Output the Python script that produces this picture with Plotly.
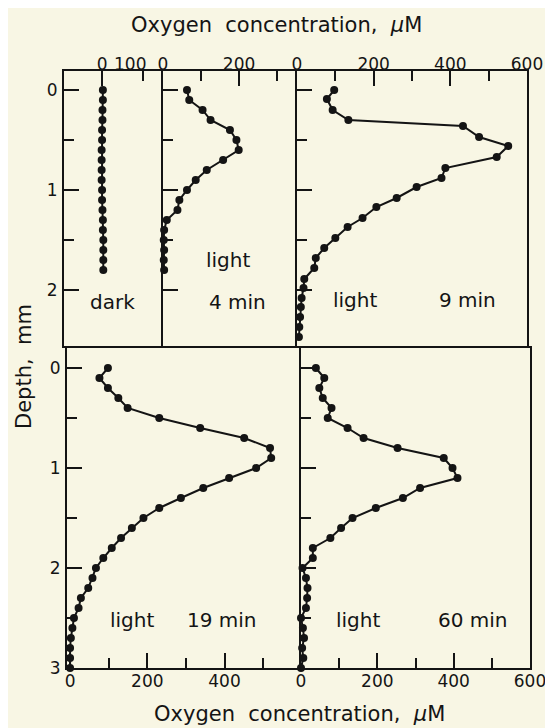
import plotly.graph_objects as go

# ---------------- data ----------------
depth_dark = [0.0, 0.1, 0.2, 0.3, 0.4, 0.5, 0.6, 0.7, 0.8, 0.9, 1.0, 1.1, 1.2, 1.3, 1.4, 1.5, 1.6, 1.7, 1.8]
o2_dark = [2, 2, 1, 1, 0, 0, -1, -1, -1, -1, 0, 0, 1, 2, 2, 3, 3, 3, 3]

depth_4min = [0.0, 0.1, 0.2, 0.3, 0.4, 0.5, 0.6, 0.7, 0.8, 0.9, 1.0, 1.1, 1.2, 1.3, 1.4, 1.5, 1.6, 1.7, 1.8]
o2_4min = [63, 69, 104, 125, 176, 193, 199, 158, 115, 86, 63, 43, 38, 10, 3, 2, 3, 2, 3]

depth_9min = [0.0, 0.09, 0.2, 0.3, 0.36, 0.47, 0.56, 0.67, 0.78, 0.88, 0.97, 1.08, 1.17, 1.28, 1.37,
              1.48, 1.58, 1.68, 1.78, 1.89, 1.98, 2.08, 2.17, 2.27, 2.37, 2.47]
o2_9min = [97, 78, 93, 134, 433, 475, 551, 521, 387, 377, 312, 260, 207, 171, 132,
           100, 71, 49, 45, 19, 17, 12, 10, 8, 6, 5]

depth_19min = [0.0, 0.1, 0.2, 0.3, 0.4, 0.5, 0.6, 0.7, 0.8, 0.9, 1.0, 1.1, 1.2, 1.3, 1.4, 1.5,
               1.6, 1.7, 1.8, 1.9, 2.0, 2.1, 2.2, 2.3, 2.4, 2.5, 2.6, 2.7, 2.8, 2.9, 3.0]
o2_19min = [98, 76, 98, 125, 149, 231, 337, 451, 518, 521, 482, 412, 345, 287, 231, 190,
            160, 132, 108, 86, 67, 58, 47, 28, 22, 10, 6, 2, 0, 0, 0]

depth_60min = [0.0, 0.1, 0.2, 0.3, 0.4, 0.5, 0.6, 0.7, 0.8, 0.9, 1.0, 1.1, 1.2, 1.3, 1.4, 1.5,
               1.6, 1.7, 1.8, 1.9, 2.0, 2.1, 2.2, 2.3, 2.4, 2.5, 2.6, 2.7, 2.8, 2.9, 3.0]
o2_60min = [39, 61, 48, 57, 80, 70, 122, 164, 253, 374, 397, 410, 312, 267, 196, 135,
            105, 77, 31, 31, 4, 13, 17, 16, 13, 0, 5, 8, 3, 6, 0]

panel_labels = [("dark", ""), ("light", "4 min"), ("light", "9 min"), ("light", "19 min"), ("light", "60 min")]

x_title = "Oxygen  concentration,  <i>μ</i>M"
y_title = "Depth,  mm"

# tick values / labels (major = labelled, minor = unlabelled)
dark_major, dark_major_text = [0], ["0"]
dark_minor = [100]
dark_extra_label = ("100", 68)          # label drawn left of its tick, as in the original
major_4min, text_4min = [0, 200], ["0", "200"]
minor_4min = [100, 300]
major_ox, text_ox = [0, 200, 400, 600], ["0", "200", "400", "600"]
major_19min, text_19min = [0, 200, 400], ["0", "200", "400"]
minor_ox = [100, 300, 500]
major_top_depth, text_top_depth = [0, 1, 2], ["0", "1", "2"]
minor_top_depth = [0.5, 1.5]
major_bot_depth, text_bot_depth = [0, 1, 2, 3], ["0", "1", "2", "3"]
minor_bot_depth = [0.5, 1.5, 2.5]

# ---------------- layout geometry (page pixels) ----------------
PAGE_W, PAGE_H = 553, 728
OFF = 8                      # default body margin of the html page
W, H = PAGE_W - OFF, PAGE_H - OFF
BG = "#f8f6e4"
INK = "#141414"
FONT = "DejaVu Sans"
LW = 2


def fx(px):
    return (px - OFF) / W


def fy(py):
    return 1 - (py - OFF) / H


TOP_Y = (71, 346)
BOT_Y = (348, 668)

panels = [
    dict(v=o2_dark, d=depth_dark, px=(64, 161), py=TOP_Y, xr=[-93, 144], yr=[2.56, -0.19], side="top",
         tv=dark_major, tt=dark_major_text, tm=dark_minor,
         yv=major_top_depth, yt=text_top_depth, ym=minor_top_depth),
    dict(v=o2_4min, d=depth_4min, px=(163, 295), py=TOP_Y, xr=[0, 347], yr=[2.56, -0.19], side="top",
         tv=major_4min, tt=text_4min, tm=minor_4min,
         yv=major_top_depth, yt=text_top_depth, ym=minor_top_depth),
    dict(v=o2_9min, d=depth_9min, px=(297, 527), py=TOP_Y, xr=[0, 600], yr=[2.56, -0.19], side="top",
         tv=major_ox, tt=text_ox, tm=minor_ox,
         yv=major_top_depth, yt=text_top_depth, ym=minor_top_depth),
    dict(v=o2_19min, d=depth_19min, px=(67, 299), py=BOT_Y, xr=[-8, 593], yr=[3.0, -0.2], side="bottom",
         tv=major_19min, tt=text_19min, tm=minor_ox,
         yv=major_bot_depth, yt=text_bot_depth, ym=minor_bot_depth),
    dict(v=o2_60min, d=depth_60min, px=(301, 530), py=BOT_Y, xr=[0, 600], yr=[3.0, -0.2], side="bottom",
         tv=major_ox, tt=text_ox, tm=minor_ox,
         yv=major_bot_depth, yt=text_bot_depth, ym=minor_bot_depth),
]

fig = go.Figure()
layout = dict(
    template="none",
    width=W, height=H, margin=dict(l=0, r=0, t=0, b=0, pad=0),
    paper_bgcolor=BG, plot_bgcolor=BG, showlegend=False, hovermode=False,
    font=dict(family=FONT, color=INK, size=17),
)

for i, p in enumerate(panels):
    n = i + 1
    xa = "x" if n == 1 else f"x{n}"
    ya = "y" if n == 1 else f"y{n}"
    fig.add_trace(go.Scatter(
        x=p["v"], y=p["d"], xaxis=xa, yaxis=ya, mode="lines+markers",
        line=dict(color=INK, width=2), marker=dict(color=INK, size=8),
        cliponaxis=False,
    ))
    common = dict(showline=True, mirror=True, linewidth=LW, linecolor=INK, automargin=False,
                  showgrid=False, zeroline=False, fixedrange=True,
                  ticks="inside", tickwidth=2, tickcolor=INK,
                  tickfont=dict(family=FONT, size=17, color=INK))
    layout["xaxis" if n == 1 else f"xaxis{n}"] = dict(
        common, domain=[fx(p["px"][0]), fx(p["px"][1])], range=p["xr"], side=p["side"], anchor=ya,
        tickmode="array", tickvals=p["tv"], ticktext=p["tt"], ticklen=15,
        ticklabelstandoff=-8 if p["side"] == "top" else -3,
        minor=dict(tickmode="array", tickvals=p["tm"], ticks="inside", ticklen=10,
                   tickwidth=2, tickcolor=INK, showgrid=False))
    layout["yaxis" if n == 1 else f"yaxis{n}"] = dict(
        common, domain=[fy(p["py"][1]), fy(p["py"][0])], range=p["yr"], anchor=xa,
        tickmode="array", tickvals=p["yv"], ticktext=p["yt"], ticklen=15,
        showticklabels=(n in (1, 4)), ticklabelstandoff=1,
        minor=dict(tickmode="array", tickvals=p["ym"], ticks="inside", ticklen=10,
                   tickwidth=2, tickcolor=INK, showgrid=False))

fig.update_layout(**layout)

# extra "100" label of the dark panel (sits left of its tick in the original)
fig.add_annotation(text=dark_extra_label[0], x=dark_extra_label[1], xref="x", y=fy(64), yref="paper",
                   showarrow=False, font=dict(family=FONT, size=17, color=INK),
                   xanchor="center", yanchor="middle")

# panel annotations (page pixel positions)
label_pos = [
    [(112, 302)],
    [(228, 260), (237, 302)],
    [(355, 300), (467, 300)],
    [(132, 620), (222, 620)],
    [(358, 620), (473, 620)],
]
for (a, b), pos in zip(panel_labels, label_pos):
    texts = [a] if not b else [a, b]
    for t, (px, py) in zip(texts, pos):
        fig.add_annotation(text=t, x=fx(px), y=fy(py), xref="paper", yref="paper",
                           showarrow=False, font=dict(family=FONT, size=20, color=INK),
                           xanchor="center", yanchor="middle")

fig.add_annotation(text=x_title, x=fx(276), y=fy(25), xref="paper", yref="paper", showarrow=False,
                   font=dict(family=FONT, size=21, color=INK), xanchor="center", yanchor="middle")
fig.add_annotation(text=x_title, x=fx(299), y=fy(714), xref="paper", yref="paper", showarrow=False,
                   font=dict(family=FONT, size=21, color=INK), xanchor="center", yanchor="middle")
fig.add_annotation(text=y_title, x=fx(24), y=fy(367), xref="paper", yref="paper", showarrow=False,
                   textangle=-90, font=dict(family=FONT, size=21, color=INK),
                   xanchor="center", yanchor="middle")

fig.write_html("out.html")
